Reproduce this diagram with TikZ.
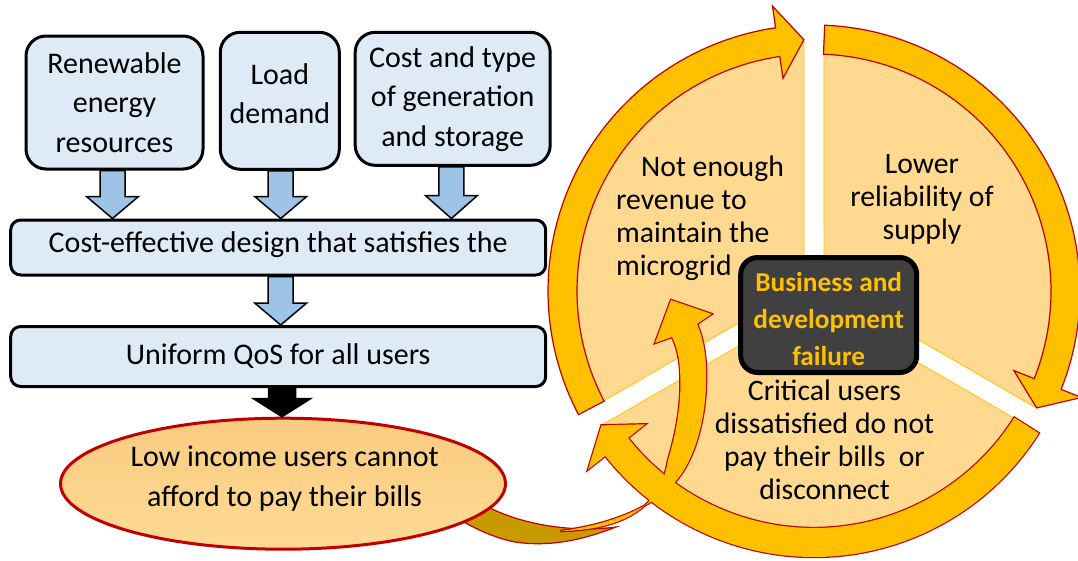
\documentclass[tikz,border=0pt]{standalone}
\usepackage{fontspec}
\setmainfont{Carlito}
\usetikzlibrary{shapes.geometric,calc}
\definecolor{boxblue}{HTML}{DEEBF7}
\definecolor{arrblue}{HTML}{9DC3E6}
\definecolor{pale}{HTML}{FFD990}
\definecolor{gold}{HTML}{FFC000}
\definecolor{dred}{HTML}{C00000}
\definecolor{darkgold}{HTML}{C99A00}
\definecolor{boxdark}{HTML}{404040}
\definecolor{elltop}{HTML}{F9CB80}
\definecolor{ellbot}{HTML}{FFDA94}
% block arrow: #1 from, #2 to, #3 x, #4 style, #5 head length, #6 shaft half, #7 head half
\newcommand{\blockarrow}[7]{%
  \path[#4] let \p1=(#1.south), \p2=(#2.north) in
   ({#3pt-#6pt},\y1) -- ({#3pt+#6pt},\y1) -- ({#3pt+#6pt},{\y2+#5pt}) -- ({#3pt+#7pt},{\y2+#5pt})
   -- ({#3pt},\y2) -- ({#3pt-#7pt},{\y2+#5pt}) -- ({#3pt-#6pt},{\y2+#5pt}) -- cycle;}
% ring arrow path: #1 start angle, #2 base angle, #3 tip angle
\newcommand{\ringpath}[3]{(#1:266) arc[start angle=#1, end angle=#2, radius=266] -- (#2:288) -- (#3:251.5) -- (#2:215) -- (#2:237) arc[start angle=#2, end angle=#1, radius=237] -- cycle}
\newcommand{\curvedpath}{(560,-531) .. controls (620,-530) and (660,-510) .. (668,-460) .. controls (677,-430) and (682,-400) .. (680,-370) .. controls (679,-355) and (676,-345) .. (672,-337) -- (655,-343) -- (671,-300) -- (711.7,-314) -- (697,-324) .. controls (704,-340) and (707,-360) .. (706,-385) .. controls (705,-420) and (695,-460) .. (675,-482) .. controls (655,-505) and (615,-524) .. (560,-531) -- cycle}
\begin{document}
\begin{tikzpicture}[x=1pt,y=1pt,
  boxtxt/.style={font=\fontsize{30}{39.5}\selectfont, align=center, inner sep=0pt},
  bluebox/.style={boxtxt, draw=black, line width=3pt, fill=boxblue, rounded corners=20pt},
  widebox/.style={bluebox, rounded corners=10pt},
  barrowstyle/.style={draw=black, line width=1.5pt, fill=arrblue, line join=miter},
  blackarrow/.style={draw=black, line width=1.5pt, fill=black},
  wedge/.style={fill=pale, draw=gold, line width=0.8pt},
  ringstyle/.style={fill=gold, draw=dred, line width=1.2pt},
  sectxt/.style={font=\fontsize{29.7}{33}\selectfont, inner sep=0pt},
]
\useasboundingbox (0,0) rectangle (1078,-560);

% ---------- left column ----------
\node[bluebox, minimum width=177pt, minimum height=133pt] (b1) at (114.5,-102.5) {Renewable\\energy\\resources};
\node[bluebox, minimum width=119pt, minimum height=137pt] (b2) at (279.8,-100.8) {};
\node[boxtxt] (b2t) at (279.8,-93.5) {Load\\demand};
\node[bluebox, minimum width=195pt, minimum height=133pt] (b3) at (452.7,-98.8) {Cost and type\\of generation\\and storage};
\node[widebox, minimum width=535pt, minimum height=55pt] (cd) at (278.2,-247.5) {};
\node[boxtxt] (cdt) at (278.2,-244.5) {Cost-effective design that satisfies the};
\node[widebox, minimum width=535pt, minimum height=60pt] (uq) at (278.2,-356.5) {Uniform QoS for all users};

\blockarrow{b1}{cd}{112.5}{barrowstyle}{22}{12.5}{26}
\blockarrow{b2}{cd}{280.7}{barrowstyle}{22}{12.5}{26}
\blockarrow{b3}{cd}{451.4}{barrowstyle}{23}{12.5}{26}
\blockarrow{cd}{uq}{280.7}{barrowstyle}{22}{12.5}{26}

% ---------- cycle ----------
\begin{scope}[shift={(814,-291)}]
  \path[wedge] (150:11.55) -- (92.28:250) arc[start angle=92.28, end angle=207.72, radius=250] -- cycle;
  \path[wedge] (30:11.55) -- (87.72:250) arc[start angle=87.72, end angle=-27.72, radius=250] -- cycle;
  \path[wedge] (270:11.55) -- (327.72:250) arc[start angle=327.72, end angle=212.28, radius=250] -- cycle;
  \path[ringstyle] \ringpath{207.7}{98.3}{92.3};
  \path[ringstyle] \ringpath{87.7}{-21.7}{-27.7};
\end{scope}

% dark back of the curved arrow
\path[fill=darkgold, draw=dred, line width=1.2pt] (486,-506) .. controls (520,-524) and (570,-533) .. (616,-527) .. controls (590,-537) and (555,-548) .. (515,-542) .. controls (495,-538) and (478,-530) .. (462,-521) -- cycle;

% union outline of bottom ring and curved arrow
\path[draw=dred, line width=2.4pt, shift={(814,-291)}] \ringpath{327.7}{218.3}{212.3};
\path[draw=dred, line width=2.4pt] \curvedpath;
\path[fill=gold, shift={(814,-291)}] \ringpath{327.7}{218.3}{212.3};
\path[fill=gold] \curvedpath;

% ellipse
\node[ellipse, draw=dred, line width=3pt, top color=elltop, bottom color=ellbot, minimum width=445pt, minimum height=131pt, inner sep=0pt] (ell) at (283,-483.7) {};
\node[boxtxt] (ellt) at (284.6,-478.5) {Low income users cannot\\afford to pay their bills};
\blockarrow{uq}{ell}{282}{blackarrow}{18}{13.5}{28.5}

% centre box
\node[draw=black, line width=5pt, fill=boxdark, rounded corners=17pt, minimum width=176pt, minimum height=115pt, inner sep=0pt] (fb) at (828.7,-315) {};
\node[inner sep=0pt, text=gold, align=center, font=\bfseries\fontsize{27.3}{37}\selectfont] (fbt) at (828.7,-319.5) {Business and\\development\\failure};

% sector texts
\node[sectxt, anchor=west, align=left] (t1) at (616,-218.5) {\hspace*{25pt}Not enough\\revenue to\\maintain the\\microgrid};
\node[sectxt, align=center] (t2) at (922,-199) {Lower\\reliability of\\supply};
\node[sectxt, align=center] (t3) at (824.5,-439.5) {Critical users\\dissatisfied do not\\pay their bills\ \ or\\disconnect};
\end{tikzpicture}
\end{document}
